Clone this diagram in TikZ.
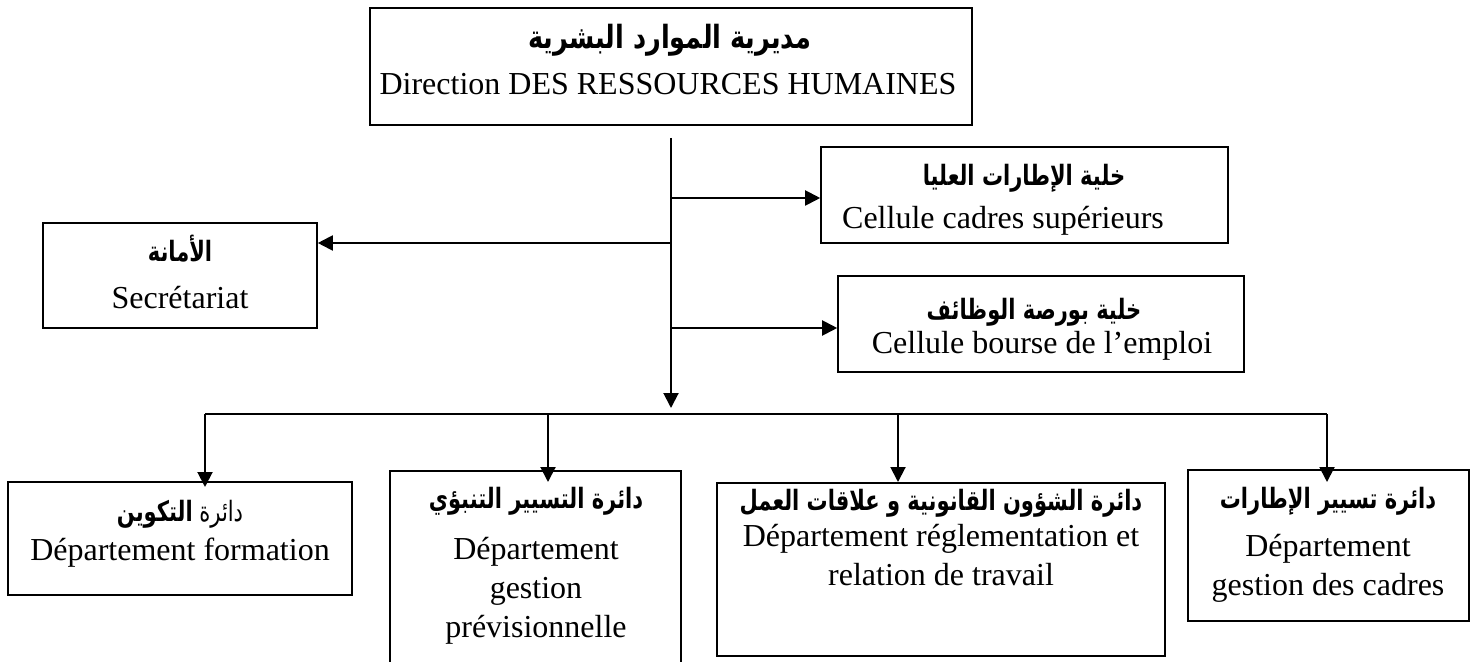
\documentclass[tikz,border=0pt]{standalone}
\usepackage{graphicx}
\usepackage{fontspec}
\setmainfont{Liberation Serif}
\newfontfamily\arabicfont[Script=Arabic]{DejaVu Sans}
\TeXXeTstate=1
\usetikzlibrary{arrows.meta,fit}

% Arabic heading line, bold, right to left, slightly condensed
\newcommand{\artitle}[1]{\scalebox{0.75}[1]{\arabicfont\fontsize{14}{16}\selectfont\bfseries\beginR #1\endR}}
\newcommand{\armain}[1]{\scalebox{0.8}[1]{\arabicfont\fontsize{16}{18}\selectfont\bfseries\beginR #1\endR}}

\tikzset{
  unit/.style={draw=black, line width=0.8pt, inner sep=0pt},
  conn/.style={line width=1pt},
  arr/.style={conn, -{Triangle[length=7.5pt,width=7.5pt]}},
  lat/.style={font=\fontsize{16}{19.5}\selectfont, inner sep=0pt, align=center},
  arl/.style={inner sep=0pt},
}

\begin{document}
\begin{tikzpicture}[x=0.5pt,y=-0.5pt]
\clip (0,0) rectangle (1471,662);

% boxes
\node[unit, fit={(370,8) (972,125)}]    (dir)  {};
\node[unit, fit={(821,147) (1228,243)}] (csup) {};
\node[unit, fit={(43,223) (317,328)}]   (sec)  {};
\node[unit, fit={(838,276) (1244,372)}] (bou)  {};
\node[unit, fit={(8,482) (352,595)}]    (form) {};
\node[unit, fit={(390,471) (681,700)}]  (prev) {};
\node[unit, fit={(717,483) (1165,656)}] (regl) {};
\node[unit, fit={(1188,470) (1469,621)}] (gcad) {};

% labels
\node[arl] (dirA) at (670,40) {\armain{مديرية الموارد البشرية}};
\node[lat] (dirL) at (668,84) {Direction DES RESSOURCES HUMAINES};

\node[arl] (csupA) at (1024,178) {\artitle{خلية الإطارات العليا}};
\node[lat] (csupL) at (1003,221) {Cellule cadres supérieurs};

\node[arl] (secA) at (180,249) {\artitle{الأمانة}};
\node[lat] (secL) at (180,298) {Secrétariat};

\node[arl] (bouA) at (1034,312) {\artitle{خلية  بورصة الوظائف}};
\node[lat] (bouL) at (1042,346) {Cellule bourse de l’emploi};

\node[arl] (formA) at (180,514) {\scalebox{0.75}[1]{\arabicfont\fontsize{14}{16}\selectfont\beginR دائرة {\bfseries التكوين}\endR}};
\node[lat] (formL) at (180,553) {Département formation};

\node[arl] (prevA) at (536,501) {\artitle{دائرة التسيير التنبؤي}};
\node[lat] (prevL) at (536,591) {Département\\gestion\\prévisionnelle};

\node[arl] (reglA) at (941,503) {\artitle{دائرة الشؤون القانونية و علاقات العمل}};
\node[lat] (reglL) at (941,555) {Département réglementation et\\relation de travail};

\node[arl] (gcadA) at (1328,501) {\artitle{دائرة تسيير الإطارات}};
\node[lat] (gcadL) at (1328,568) {Département\\gestion des cadres};

% main trunk and side branches
\coordinate (t0) at (671,138);
\coordinate (t1) at (671,408);
\coordinate (j1) at (671,198);
\coordinate (j2) at (671,243);
\coordinate (j3) at (671,328);
\draw[arr] (t0) -- (t1);
\draw[arr] (j1) -- (j1 -| csup.west);
\draw[arr] (j2) -- (j2 -| sec.east);
\draw[arr] (j3) -- (j3 -| bou.west);

% distribution bar and drops to the departments
\coordinate (bL) at (205,414);
\coordinate (b2) at (548,414);
\coordinate (b3) at (898,414);
\coordinate (bR) at (1327,414);
\coordinate (d1) at (205,487);
\coordinate (d2) at (548,482);
\coordinate (d3) at (898,482);
\coordinate (d4) at (1327,482);
\draw[conn] (bL) -- (bR);
\draw[arr] (bL) -- (d1);
\draw[arr] (b2) -- (d2);
\draw[arr] (b3) -- (d3);
\draw[arr] (bR) -- (d4);
\end{tikzpicture}
\end{document}
